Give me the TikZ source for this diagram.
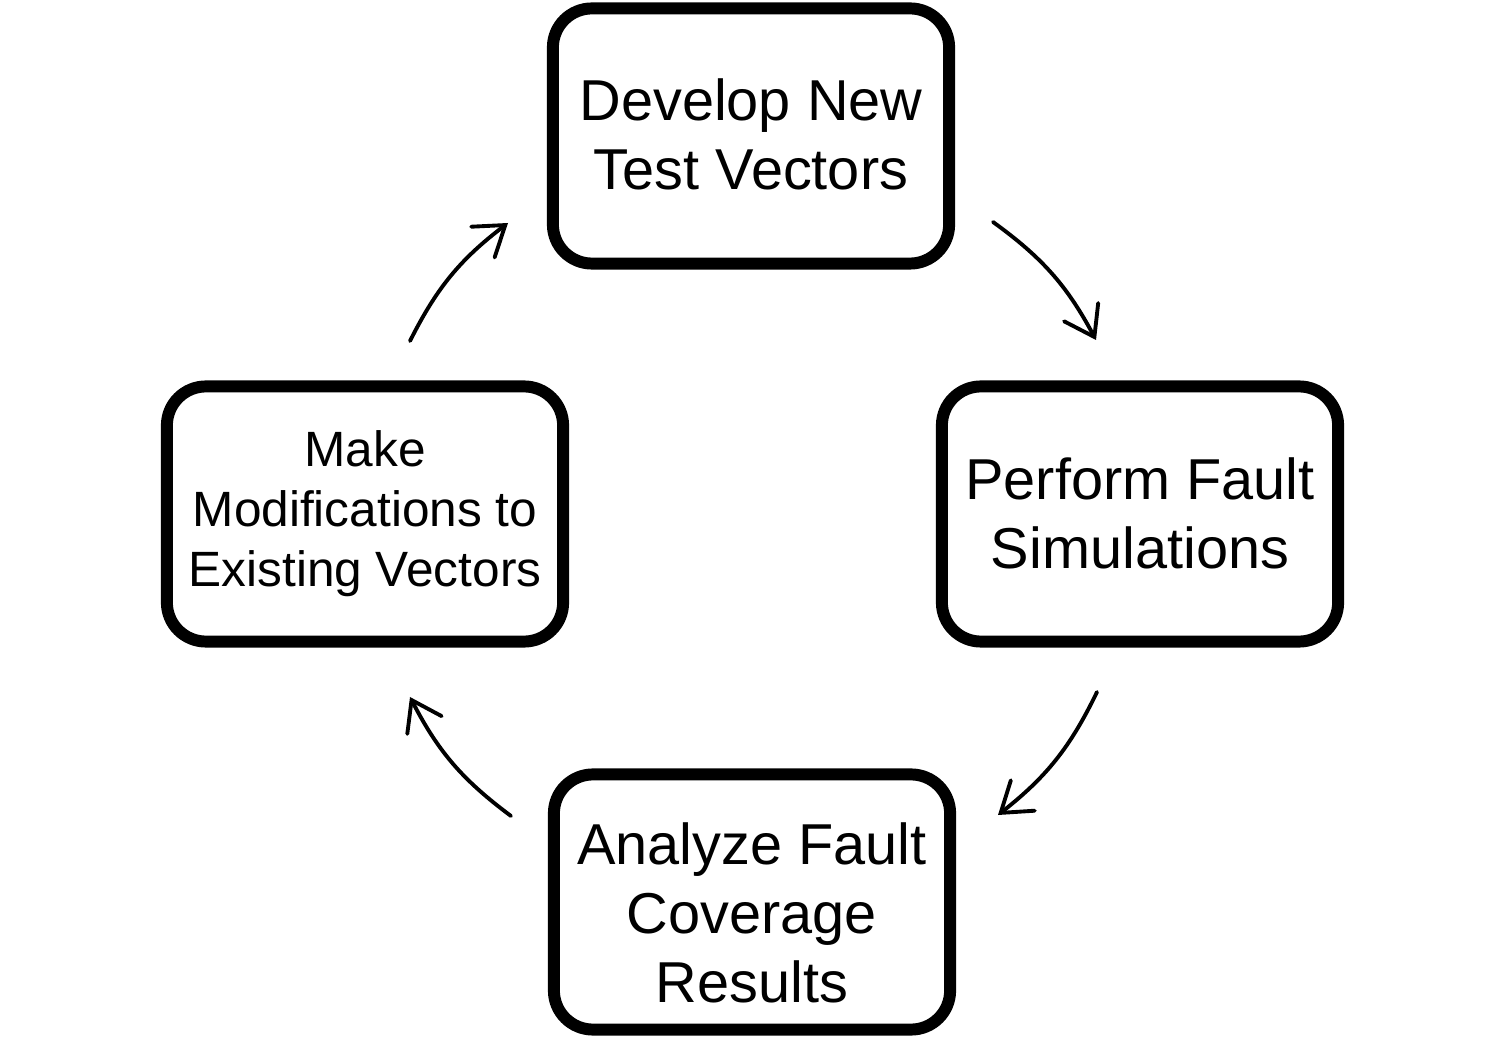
\documentclass[tikz,border=0pt]{standalone}
\usepackage{fontspec}
\setmainfont{Liberation Sans}
\usetikzlibrary{arrows.meta,positioning}
\begin{document}
\begin{tikzpicture}[x=0.01cm,y=-0.01cm,
  box/.style={draw=black,fill=white,line width=3.4pt,rounded corners=0.39cm,
    minimum width=3.96cm,minimum height=2.55cm,inner sep=0pt},
  bigtxt/.style={align=center,font=\fontsize{16.4pt}{19.6pt}\selectfont,inner sep=0pt},
  smalltxt/.style={align=center,font=\fontsize{14.1pt}{17.1pt}\selectfont,inner sep=0pt},
  flow/.style={line width=1.1pt,line cap=round,-{Straight Barb[length=8pt,width=11pt,line cap=round]},bend left=13}]
\useasboundingbox[fill=white] (0,0) rectangle (1500,1037);
\node[box] (top) at (751,136) {};
\node[box] (right) at (1140,514) {};
\node[box] (bottom) at (752,902) {};
\node[box] (left) at (365,514) {};
\node[bigtxt] (ttop) at (751,134) {Develop New\\Test Vectors};
\node[bigtxt] (tright) at (1140,513) {Perform Fault\\Simulations};
\node[bigtxt] (tbottom) at (752,913) {Analyze Fault\\Coverage\\Results};
\node[smalltxt] (tleft) at (365,514) {Make\\Modifications to\\Existing Vectors};
\coordinate (a1s) at (993,222);
\coordinate (a1e) at (1096,340);
\coordinate (a2s) at (1097,692);
\coordinate (a2e) at (998,815);
\coordinate (a3s) at (511,816);
\coordinate (a3e) at (410,697);
\coordinate (a4s) at (410,341);
\coordinate (a4e) at (508,223);
\draw[flow] (a1s) to (a1e);
\draw[flow] (a2s) to (a2e);
\draw[flow] (a3s) to (a3e);
\draw[flow] (a4s) to (a4e);
\end{tikzpicture}
\end{document}
